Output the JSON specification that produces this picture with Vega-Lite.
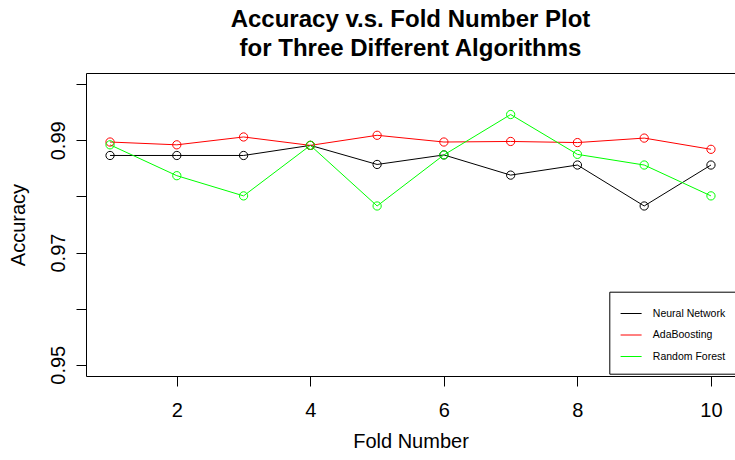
{
  "$schema": "https://vega.github.io/schema/vega-lite/v6.json",
  "width": 649,
  "height": 303,
  "autosize": {"type": "none"},
  "padding": {"left": 86, "top": 73, "right": 0, "bottom": 84},
  "background": "white",
  "config": {
    "font": "Liberation Sans",
    "view": {"stroke": "black", "strokeWidth": 1},
    "axis": {"grid": false, "domain": false, "tickColor": "black", "tickSize": 10, "labelColor": "black", "titleColor": "black", "labelFont": "Liberation Sans", "titleFont": "Liberation Sans", "labelFontSize": 20, "titleFontSize": 20, "titleFontWeight": "normal"}
  },
  "title": {
    "text": ["Accuracy v.s. Fold Number Plot", "for Three Different Algorithms"],
    "fontSize": 24,
    "fontWeight": "bold",
    "font": "Liberation Sans",
    "color": "black",
    "lineHeight": 29,
    "anchor": "middle",
    "frame": "group",
    "offset": 12
  },
  "data": {
    "values": [
      {"fold": 1, "algo": "Neural Network", "acc": 0.9873},
      {"fold": 2, "algo": "Neural Network", "acc": 0.9873},
      {"fold": 3, "algo": "Neural Network", "acc": 0.9873},
      {"fold": 4, "algo": "Neural Network", "acc": 0.9891},
      {"fold": 5, "algo": "Neural Network", "acc": 0.9857},
      {"fold": 6, "algo": "Neural Network", "acc": 0.9874},
      {"fold": 7, "algo": "Neural Network", "acc": 0.9838},
      {"fold": 8, "algo": "Neural Network", "acc": 0.9856},
      {"fold": 9, "algo": "Neural Network", "acc": 0.9783},
      {"fold": 10, "algo": "Neural Network", "acc": 0.9856},
      {"fold": 1, "algo": "AdaBoosting", "acc": 0.9897},
      {"fold": 2, "algo": "AdaBoosting", "acc": 0.9892},
      {"fold": 3, "algo": "AdaBoosting", "acc": 0.9906},
      {"fold": 4, "algo": "AdaBoosting", "acc": 0.9891},
      {"fold": 5, "algo": "AdaBoosting", "acc": 0.9909},
      {"fold": 6, "algo": "AdaBoosting", "acc": 0.9897},
      {"fold": 7, "algo": "AdaBoosting", "acc": 0.9898},
      {"fold": 8, "algo": "AdaBoosting", "acc": 0.9896},
      {"fold": 9, "algo": "AdaBoosting", "acc": 0.9904},
      {"fold": 10, "algo": "AdaBoosting", "acc": 0.9884},
      {"fold": 1, "algo": "Random Forest", "acc": 0.9892},
      {"fold": 2, "algo": "Random Forest", "acc": 0.9837},
      {"fold": 3, "algo": "Random Forest", "acc": 0.9801},
      {"fold": 4, "algo": "Random Forest", "acc": 0.9891},
      {"fold": 5, "algo": "Random Forest", "acc": 0.9783},
      {"fold": 6, "algo": "Random Forest", "acc": 0.9874},
      {"fold": 7, "algo": "Random Forest", "acc": 0.9946},
      {"fold": 8, "algo": "Random Forest", "acc": 0.9875},
      {"fold": 9, "algo": "Random Forest", "acc": 0.9856},
      {"fold": 10, "algo": "Random Forest", "acc": 0.9801}
    ]
  },
  "encoding": {
    "x": {
      "field": "fold", "type": "quantitative",
      "scale": {"domain": [0.64, 10.36], "nice": false, "zero": false},
      "axis": {"title": "Fold Number", "values": [2, 4, 6, 8, 10], "labelBaseline": "alphabetic", "labelPadding": 30, "labelFlush": false, "labelOverlap": false, "titleBaseline": "alphabetic", "titleY": 71, "titleX": 324.5, "titleAnchor": "middle", "titleAlign": "center"}
    },
    "y": {
      "field": "acc", "type": "quantitative",
      "scale": {"domain": [0.948, 1.002], "nice": false, "zero": false},
      "axis": {"title": "Accuracy", "values": [0.95, 0.96, 0.97, 0.98, 0.99, 1.0], "format": ".2f", "labelExpr": "(datum.label == '0.95' || datum.label == '0.97' || datum.label == '0.99') ? datum.label : ''", "labelAngle": -90, "labelAlign": "center", "labelBaseline": "alphabetic", "labelPadding": 11.5, "labelFlush": false, "labelOverlap": false, "titleAngle": -90, "titleAlign": "center", "titleBaseline": "alphabetic", "titleX": -62, "titleY": 151.5}
    },
    "color": {
      "field": "algo", "type": "nominal",
      "scale": {"domain": ["Neural Network", "AdaBoosting", "Random Forest"], "range": ["#000000", "#FF0000", "#00FF00"]},
      "legend": {"title": null, "orient": "none", "legendX": 523.3, "legendY": 218.7, "symbolType": "stroke", "symbolSize": 441, "symbolStrokeWidth": 1, "labelFontSize": 10.5, "labelFont": "Liberation Sans", "labelColor": "black", "strokeColor": "black", "fillColor": "white", "padding": 10.8, "labelOffset": 10.7, "rowPadding": 4.5}
    }
  },
  "layer": [
    {"mark": {"type": "line", "strokeWidth": 1}, "encoding": {"detail": {"field": "algo"}}},
    {"mark": {"type": "point", "filled": false, "size": 68, "strokeWidth": 1, "opacity": 1}}
  ]
}
